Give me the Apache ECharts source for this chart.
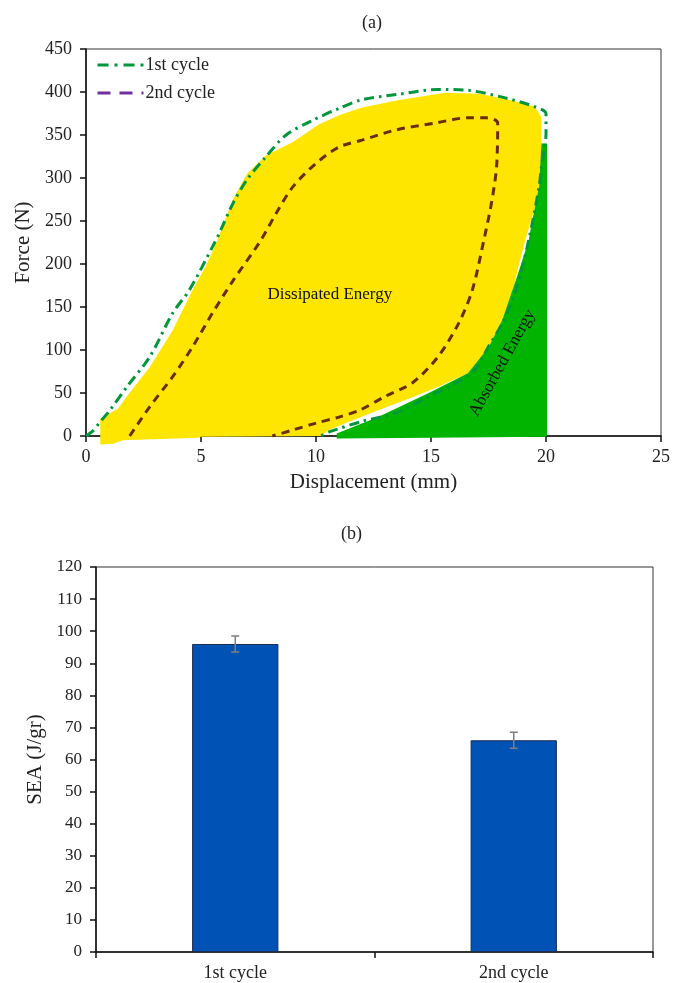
<!DOCTYPE html>
<html>
<head>
<meta charset="utf-8">
<script src="https://cdn.jsdelivr.net/npm/echarts@6/dist/echarts.min.js"></script>
<style>
html,body{margin:0;padding:0;background:#fff;}
#c{width:673px;height:983px;}
</style>
</head>
<body>
<div id="c"></div>
<script>
// ---------- Data: panel (a) ----------
var cycle1 = [[0,0],[0.3,6],[0.6,16],[1.04,30],[1.77,57],[2.77,92],[3.77,143],[4.5,170],[5.5,220],[5.8,236],[6.4,271],[7.0,298],[7.8,324],[8.7,350],[9.85,367],[11,381],[12,391],[13.5,397],[15.3,403],[16.6,402],[18.1,394],[19.5,383],[20,375],[20,352],[19.8,313],[19.7,290],[19.25,228],[18.7,170],[18.1,131],[17.5,104],[16.9,77],[16.1,62],[14.9,46],[13.5,27],[12,17],[10.6,5],[10.2,0]];
var cycle2 = [[1.9,0],[2.77,34],[3.77,69],[4.64,104],[5.5,143],[6.4,181],[7.54,225],[8.27,259],[9.0,290],[10.0,317],[11,336],[12,344],[13.5,356],[15.2,364],[16.6,370],[17.4,370],[17.9,364],[17.85,313],[17.65,274],[17.3,228],[16.8,170],[16.2,131],[15.3,92],[14.2,62],[13.0,46],[11.9,30],[11.0,22],[10,15],[9.0,7],[8.1,0]];
var dissipatedArea = [[0.62,-10],[0.62,20],[1.4,32],[1.77,46],[2.77,80],[3.77,123],[4.64,170],[5.2,197],[5.67,225],[6.4,276],[7.0,305],[7.8,326],[9.0,342],[10.1,362],[11,373],[12,382],[13.5,390],[15.6,399],[17.1,398],[18.4,391],[19.5,383],[19.8,371],[19.8,313],[19.7,283],[19.4,255],[19.1,228],[18.8,197],[18.4,150],[17.8,112],[17.2,92],[16.6,73],[15.3,57],[14.2,45],[12.7,30],[11.3,15],[10.57,7],[10.2,0],[5,-1],[4.9,-2],[1.6,-5],[1.2,-9]];
var absorbedArea = [[19.8,340],[20.05,340],[20.05,0],[20.0,-1],[15,-2],[10.9,-3],[10.9,3],[12.7,22],[14.9,50],[16.6,73],[17.5,103],[18.1,135],[18.8,190],[19.25,228],[19.4,250],[19.7,290]];
var annotations = [[10.6,165,'Dissipated Energy',0],[18.1,85,'Absorbed Energy',61]];
var seriesNames = ['1st cycle','2nd cycle'];

// ---------- Data: panel (b) ----------
var categories = ['1st cycle','2nd cycle'];
var seaValues = [96, 66];
var seaErrors = [2.5, 2.5];

var FONT = 'Liberation Serif';
var TXT = '#222';

function polygonSeries(pts, color){
  return {
    type:'custom', xAxisIndex:0, yAxisIndex:0, silent:true, z:1,
    data:[pts[0]],
    renderItem:function(params, api){
      return {type:'polygon', shape:{points: pts.map(function(p){return api.coord(p);})}, style:{fill:color}};
    }
  };
}

var chart = echarts.init(document.getElementById('c'), null, {renderer:'canvas'});
var option = {
  animation:false,
  backgroundColor:'#fff',
  graphic:[
    {type:'text', left:362, top:14, style:{text:'(a)', font:'18px "Liberation Serif"', fill:TXT}},
    {type:'text', left:341, top:525, style:{text:'(b)', font:'18px "Liberation Serif"', fill:TXT}}
  ],
  legend:{
    data:[
      {name:seriesNames[0], lineStyle:{width:3, type:[11,6,3,6]}},
      {name:seriesNames[1], lineStyle:{color:'#7030A0', width:3, type:[13,9]}}
    ],
    itemStyle:{opacity:0},
    orient:'vertical', left:91, top:51, itemWidth:46, itemHeight:14, itemGap:10,
    textStyle:{fontFamily:FONT, fontSize:18, color:TXT, padding:[0,0,0,-3]}
  },
  grid:[
    {left:86, top:49, width:577, height:387, show:true, borderColor:'#333', borderWidth:1, containLabel:false},
    {left:96, top:567, width:557, height:385, show:true, borderColor:'#333', borderWidth:1, containLabel:false}
  ],
  xAxis:[
    {type:'value', gridIndex:0, min:0, max:25, interval:5,
     name:'Displacement (mm)', nameLocation:'middle', nameGap:36,
     nameTextStyle:{fontFamily:FONT, fontSize:21, color:TXT},
     axisLine:{show:true, onZero:false, lineStyle:{color:'#111', width:1.5}},
     axisTick:{show:true, length:6, lineStyle:{color:'#111', width:1.5}},
     axisLabel:{fontFamily:FONT, fontSize:18, color:TXT, margin:12},
     splitLine:{show:false}},
    {type:'category', gridIndex:1, data:categories,
     axisLine:{show:true, lineStyle:{color:'#111', width:1.5}},
     axisTick:{show:true, length:6, lineStyle:{color:'#111', width:1.5}},
     axisLabel:{fontFamily:FONT, fontSize:18, color:TXT, margin:12},
     splitLine:{show:false}}
  ],
  yAxis:[
    {type:'value', gridIndex:0, min:0, max:450, interval:50,
     name:'Force (N)', nameLocation:'middle', nameGap:51,
     nameTextStyle:{fontFamily:FONT, fontSize:21, color:TXT},
     axisLine:{show:true, lineStyle:{color:'#111', width:1.5}},
     axisTick:{show:true, length:6, lineStyle:{color:'#111', width:1.5}},
     axisLabel:{fontFamily:FONT, fontSize:18, color:TXT, margin:14},
     splitLine:{show:false}},
    {type:'value', gridIndex:1, min:0, max:120, interval:10,
     name:'SEA (J/gr)', nameLocation:'middle', nameGap:49,
     nameTextStyle:{fontFamily:FONT, fontSize:21, color:TXT},
     axisLine:{show:true, lineStyle:{color:'#111', width:1.5}},
     axisTick:{show:true, length:6, lineStyle:{color:'#111', width:1.5}},
     axisLabel:{fontFamily:FONT, fontSize:17, color:TXT, margin:14},
     splitLine:{show:false}}
  ],
  series:[
    polygonSeries(dissipatedArea, '#FFE600'),
    polygonSeries(absorbedArea, '#00B400'),
    {name:seriesNames[0], type:'line', xAxisIndex:0, yAxisIndex:0, data:cycle1, symbol:'none', smooth:0.3, z:3,
     lineStyle:{color:'#00963C', width:3, type:[10,5,2.5,5]}, itemStyle:{color:'#00963C'}},
    {name:seriesNames[1], type:'line', xAxisIndex:0, yAxisIndex:0, data:cycle2, symbol:'none', smooth:0.3, z:3,
     lineStyle:{color:'#6B2D0C', width:3, type:[8,6]}, itemStyle:{color:'#6B2D0C'}},
    {type:'custom', xAxisIndex:0, yAxisIndex:0, silent:true, z:4,
     data:annotations,
     renderItem:function(params, api){
       var a = annotations[params.dataIndex];
       var p = api.coord([a[0], a[1]]);
       return {type:'text', x:p[0], y:p[1], rotation:a[3]*Math.PI/180,
               style:{text:a[2], font:'17px "Liberation Serif"', fill:'#111', align:'center', verticalAlign:'middle'}};
     }},
    {type:'bar', xAxisIndex:1, yAxisIndex:1, data:seaValues, barWidth:'31%',
     itemStyle:{color:'#0052B4', borderColor:'#1E2F55', borderWidth:1}},
    {type:'custom', xAxisIndex:1, yAxisIndex:1, z:5, silent:true,
     data:seaValues.map(function(v,i){return [i, v-seaErrors[i], v+seaErrors[i]];}),
     renderItem:function(params, api){
       var lo = api.coord([api.value(0), api.value(1)]);
       var hi = api.coord([api.value(0), api.value(2)]);
       var w = 4;
       var st = {stroke:'#7F7F7F', lineWidth:1.5};
       return {type:'group', children:[
         {type:'line', shape:{x1:hi[0], y1:hi[1], x2:lo[0], y2:lo[1]}, style:st},
         {type:'line', shape:{x1:hi[0]-w, y1:hi[1], x2:hi[0]+w, y2:hi[1]}, style:st},
         {type:'line', shape:{x1:lo[0]-w, y1:lo[1], x2:lo[0]+w, y2:lo[1]}, style:st}
       ]};
     }}
  ]
};
chart.setOption(option);
</script>
</body>
</html>
